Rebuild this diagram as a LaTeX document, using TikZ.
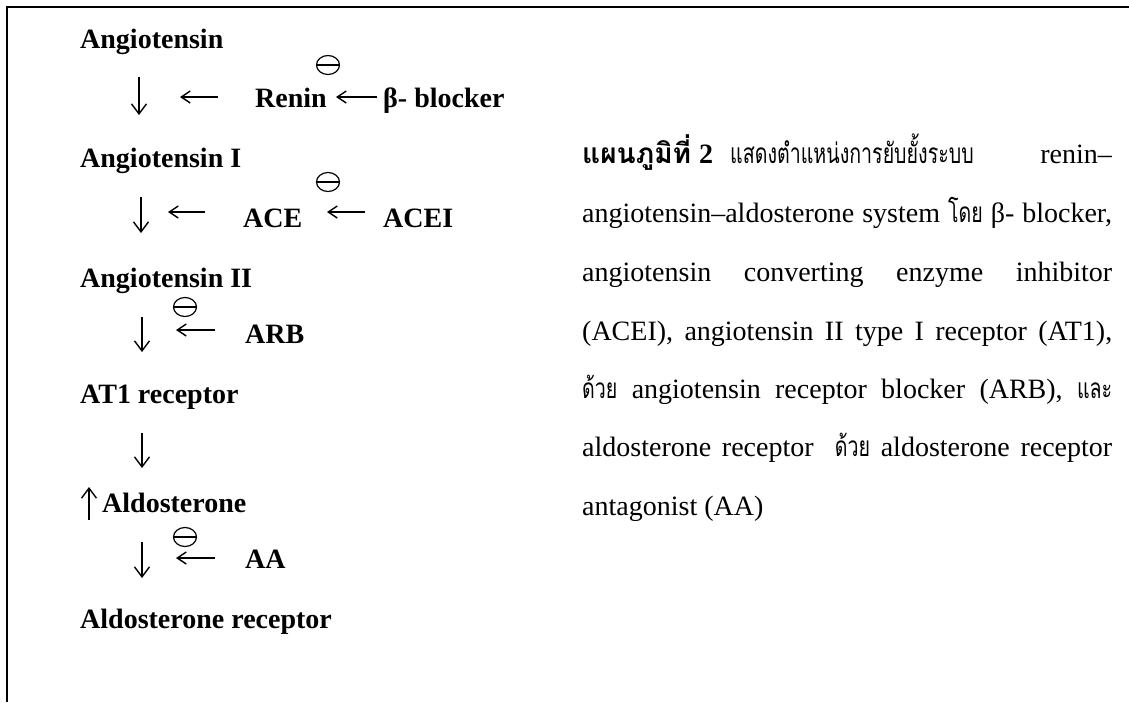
\documentclass[tikz,border=0pt]{standalone}
\usepackage{fontspec}
\setmainfont{Liberation Serif}
\newfontfamily\thai[Script=Thai,FakeStretch=0.7]{Loma}
\newfontfamily\thaiwide[Script=Thai]{Loma}
\usetikzlibrary{arrows.meta,shapes.geometric}
\begin{document}
\begin{tikzpicture}[x=1pt,y=-1pt,
  lbl/.style={font=\fontsize{28}{34}\selectfont\bfseries, inner sep=0pt, anchor=base west},
  txt/.style={font=\fontsize{28}{34}\selectfont, inner sep=0pt, anchor=base west},
  txte/.style={txt, anchor=base east},
  varr/.style={line width=1.4pt, -{Straight Barb[length=10pt,width=15pt,line width=1.4pt]}},
  harr/.style={line width=1.4pt, -{Straight Barb[length=9pt,width=12pt,line width=1.4pt]}},
  inhib/.style={draw, ellipse, minimum width=23pt, minimum height=19pt, inner sep=0pt, line width=1.2pt,
    path picture={\draw[line width=1.2pt] (path picture bounding box.west) -- (path picture bounding box.east);}}]
\useasboundingbox (0,0) rectangle (1129,702);
\draw[line width=2pt] (7,702) -- (7,7) -- (1129,7);

% left column labels
\node[lbl] (ang)  at (80,48)  {Angiotensin};
\node[lbl] (ren)  at (255,107) {Renin};
\node[lbl] (bb)   at (383,107) {β- blocker};
\node[lbl] (ang1) at (80,167) {Angiotensin I};
\node[lbl] (ace)  at (243,227) {ACE};
\node[lbl] (acei) at (383,227) {ACEI};
\node[lbl] (ang2) at (80,287) {Angiotensin II};
\node[lbl] (arb)  at (245,343) {ARB};
\node[lbl] (at1)  at (80,403) {AT1 receptor};
\node[lbl] (ald)  at (102,512) {Aldosterone};
\node[lbl] (aa)   at (245,568) {AA};
\node[lbl] (aldr) at (80,628) {Aldosterone receptor};

% inhibition marks
\node[inhib] (m1) at (328,65) {};
\node[inhib] (m2) at (328,182) {};
\node[inhib] (m3) at (185,307) {};
\node[inhib] (m4) at (185,537) {};

% arrow end points
\coordinate (d1a) at (139,77);  \coordinate (d1b) at (139,115);
\coordinate (l1a) at (218,97);  \coordinate (l1b) at (180,97);
\coordinate (l2a) at (377,97);  \coordinate (l2b) at (336,97);
\coordinate (d2a) at (141,197); \coordinate (d2b) at (141,233);
\coordinate (l3a) at (205,212); \coordinate (l3b) at (168,212);
\coordinate (l4a) at (365,212); \coordinate (l4b) at (327,212);
\coordinate (d3a) at (142,317); \coordinate (d3b) at (142,352);
\coordinate (l5a) at (215,330); \coordinate (l5b) at (176,330);
\coordinate (d4a) at (142,433); \coordinate (d4b) at (142,468);
\coordinate (u1a) at (89,520);  \coordinate (u1b) at (89,487);
\coordinate (d5a) at (142,542); \coordinate (d5b) at (142,578);
\coordinate (l6a) at (215,558); \coordinate (l6b) at (176,558);

\draw[varr] (d1a) -- (d1b);
\draw[harr] (l1a) -- (l1b);
\draw[harr] (l2a) -- (l2b);
\draw[varr] (d2a) -- (d2b);
\draw[harr] (l3a) -- (l3b);
\draw[harr] (l4a) -- (l4b);
\draw[varr] (d3a) -- (d3b);
\draw[harr] (l5a) -- (l5b);
\draw[varr] (d4a) -- (d4b);
\draw[varr] (u1a) -- (u1b);
\draw[varr] (d5a) -- (d5b);
\draw[harr] (l6a) -- (l6b);

% caption paragraph
\node[txt]  (p1a) at (582,163) {\thaiwide\bfseries แผนภูมิที่};
\node[txt]  (p1b) at (699,163) {\textbf{2}};
\node[txt]  (p1c) at (730,163) {\thai แสดงตำแหน่งการยับยั้งระบบ};
\node[txte] (p1d) at (1112,163) {renin–};
\node[txt] (p2) at (582,222) {\makebox[530pt][s]{angiotensin–aldosterone system {\thai โดย} β- blocker,}};
\node[txt] (p3) at (582,281) {\makebox[530pt][s]{angiotensin converting enzyme inhibitor}};
\node[txt] (p4) at (582,340) {\makebox[530pt][s]{(ACEI), angiotensin II type I receptor (AT1),}};
\node[txt] (p5) at (582,398) {\makebox[530pt][s]{{\thai ด้วย} angiotensin receptor blocker (ARB), {\thai และ}}};
\node[txt] (p6) at (582,456) {\makebox[530pt][s]{aldosterone receptor \ {\thai ด้วย} aldosterone receptor}};
\node[txt] (p7) at (582,515) {antagonist (AA)};
\end{tikzpicture}
\end{document}
